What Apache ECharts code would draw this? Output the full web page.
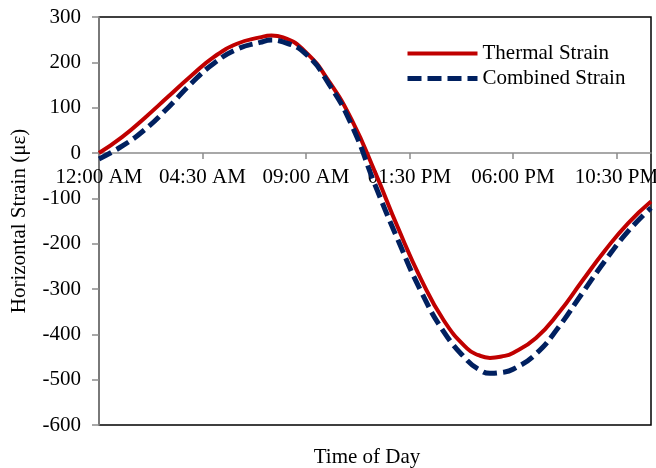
<!DOCTYPE html>
<html>
<head>
<meta charset="utf-8">
<script src="https://cdn.jsdelivr.net/npm/echarts@6/dist/echarts.min.js"></script>
<style>html,body{margin:0;padding:0;background:#fff;}#c{width:656px;height:468px;}</style>
</head>
<body>
<div id="c"></div>
<script>
const hours = [0,1,2,3,4,5,6,7,7.5,8,9,10,11,12,13,14,15,16,16.5,17,17.5,18,19,20,21,22,23,24];
const thermalStrain = [0,35,78,124,170,212,241,255,259,255,222,158,72,-42,-165,-278,-370,-431,-446,-452,-449,-441,-408,-352,-283,-215,-155,-107];
const combinedStrain = [-13,15,52,100,153,198,229,244,249,245,218,152,60,-70,-192,-305,-395,-457,-477,-486,-484,-477,-443,-383,-310,-238,-173,-121];
const timeLabels = ["12:00 AM","04:30 AM","09:00 AM","01:30 PM","06:00 PM","10:30 PM"];
const seriesNames = ["Thermal Strain","Combined Strain"];

const font = "Liberation Serif, Times New Roman, serif";
const red = '#C00000', navy = '#002060';
const chart = echarts.init(document.getElementById('c'));
chart.setOption({
  animation: false,
  textStyle: {fontFamily: font},
  grid: {left: 99, right: 5, top: 17, bottom: 43, containLabel: false, outerBoundsMode: 'none',
         show: true, borderColor: '#000', borderWidth: 1.5, backgroundColor: 'transparent'},
  legend: {
    orient: 'vertical', left: 400, top: 38, itemWidth: 70, itemHeight: 20, itemGap: 4,
    textStyle: {fontFamily: font, fontSize: 21, color: '#000'},
    itemStyle: {opacity: 0, borderWidth: 0},
    data: [
      {name: seriesNames[0], lineStyle: {width: 4, color: red}},
      {name: seriesNames[1], lineStyle: {width: 5, color: navy, type: [14, 6]}}
    ]
  },
  xAxis: [{
    type: 'value', min: 0, max: 24, interval: 4.5, position: 'bottom', offset: -272,
    axisLine: {onZero: false, lineStyle: {color: '#8c8c8c', width: 1.5}},
    axisTick: {show: true, length: 6, lineStyle: {color: '#8c8c8c', width: 1.5}},
    axisLabel: {fontFamily: font, fontSize: 21, color: '#000', margin: 14, showMaxLabel: false,
      formatter: v => timeLabels[Math.round(v / 4.5)] || ''},
    splitLine: {show: false}
  }, {
    type: 'value', min: 0, max: 24, position: 'bottom',
    name: 'Time of Day', nameLocation: 'middle', nameGap: 22,
    nameTextStyle: {fontFamily: font, fontSize: 21, color: '#000', padding: [0, 16, 0, 0]},
    axisLine: {show: false, onZero: false}, axisTick: {show: false}, axisLabel: {show: false},
    splitLine: {show: false}
  }],
  yAxis: {
    type: 'value', min: -600, max: 300, interval: 100,
    name: 'Horizontal Strain (με)', nameLocation: 'middle', nameGap: 69,
    nameTextStyle: {fontFamily: font, fontSize: 21, color: '#000'},
    axisLine: {show: true, onZero: false, lineStyle: {color: '#8c8c8c', width: 1.5}},
    axisTick: {show: true, length: 7, lineStyle: {color: '#8c8c8c', width: 1.5}},
    axisLabel: {fontFamily: font, fontSize: 21, color: '#000', margin: 18},
    splitLine: {show: false}
  },
  series: [
    {name: seriesNames[0], type: 'line', smooth: 0.5, symbol: 'none', xAxisIndex: 0,
     data: hours.map((h, i) => [h, thermalStrain[i]]),
     lineStyle: {color: red, width: 4}, itemStyle: {color: red}, z: 3},
    {name: seriesNames[1], type: 'line', smooth: 0.5, symbol: 'none', xAxisIndex: 0,
     data: hours.map((h, i) => [h, combinedStrain[i]]),
     lineStyle: {color: navy, width: 5, type: [14, 6]}, itemStyle: {color: navy}, z: 4}
  ]
});
</script>
</body>
</html>
